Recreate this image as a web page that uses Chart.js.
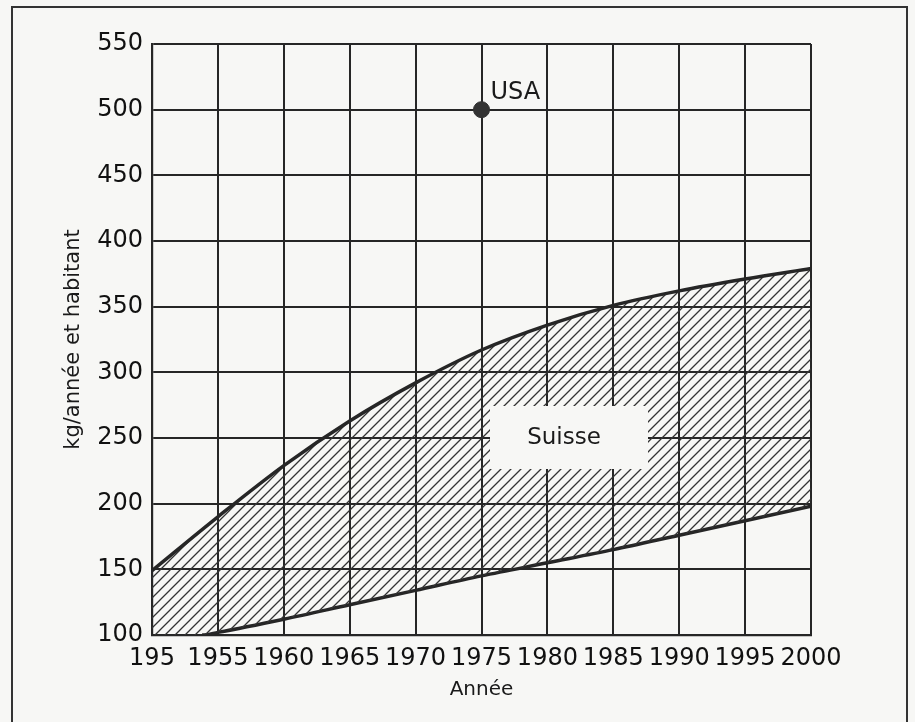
<!DOCTYPE html>
<html>
<head>
<meta charset="utf-8">
<script src="https://cdn.jsdelivr.net/npm/chart.js@4.4.1/dist/chart.umd.min.js"></script>
<style>
  html, body { margin: 0; padding: 0; background: #f7f7f5; }
</style>
</head>
<body>
<canvas id="chart" width="915" height="722"></canvas>
<script>
// valeurs
const years = [1950, 1955, 1960, 1965, 1970, 1975, 1980, 1985, 1990, 1995, 2000];
const xTickLabels = ['195', '1955', '1960', '1965', '1970', '1975', '1980', '1985', '1990', '1995', '2000'];
const yTicks = [100, 150, 200, 250, 300, 350, 400, 450, 500, 550];

// limite haute de la zone Suisse
const suisseHigh = [149, 190, 229, 263, 292, 317, 336, 351, 362, 371, 379];
// limite basse (la courbe commence vers 1953.8 sur l'axe)
const lowYears = [1950, 1953.8, 1955, 1960, 1965, 1970, 1975, 1980, 1985, 1990, 1995, 2000];
const suisseLow = [100, 100, 102, 112, 123, 134, 145, 155, 165, 176, 187, 198];

const usaYear = [1975];
const usaValue = [500];

const suisseLabel = { x: 1980.5, y: 250, text: 'Suisse' };

const ink = '#262626';
const paper = '#f7f7f5';
const fontFamily = '"DejaVu Sans", "Liberation Sans", Arial, sans-serif';

// motif hachuré
function makeHatch() {
  const c = document.createElement('canvas');
  c.width = 10;
  c.height = 10;
  const g = c.getContext('2d');
  g.strokeStyle = '#333';
  g.lineWidth = 1.3;
  g.beginPath();
  g.moveTo(0, 10); g.lineTo(10, 0);
  g.moveTo(-2, 2); g.lineTo(2, -2);
  g.moveTo(8, 12); g.lineTo(12, 8);
  g.stroke();
  return g.createPattern(c, 'repeat');
}

const paperFrame = {
  id: 'paperFrame',
  beforeDraw(chart) {
    const ctx = chart.ctx;
    ctx.save();
    ctx.fillStyle = paper;
    ctx.fillRect(0, 0, chart.width, chart.height);
    ctx.strokeStyle = '#333';
    ctx.lineWidth = 2;
    ctx.strokeRect(12, 7, 895, 730);
    ctx.restore();
  }
};

const textLabels = {
  id: 'textLabels',
  afterDatasetsDraw(chart) {
    const { ctx, scales: { x, y } } = chart;
    ctx.save();
    // boîte Suisse
    const sx = x.getPixelForValue(suisseLabel.x);
    const sy = y.getPixelForValue(suisseLabel.y);
    ctx.fillStyle = paper;
    ctx.fillRect(sx - 64, sy - 32, 158, 63);
    ctx.fillStyle = '#1a1a1a';
    ctx.font = '23px ' + fontFamily;
    ctx.textAlign = 'center';
    ctx.textBaseline = 'middle';
    ctx.fillText(suisseLabel.text, sx + 10, sy);
    // USA
    const ux = x.getPixelForValue(usaYear[0]);
    const uy = y.getPixelForValue(usaValue[0]);
    ctx.font = '24px ' + fontFamily;
    ctx.textAlign = 'left';
    ctx.fillText('USA', ux + 9, uy - 17);
    ctx.restore();
  }
};

const ctx = document.getElementById('chart').getContext('2d');
const hatch = makeHatch();

new Chart(ctx, {
  type: 'line',
  data: {
    datasets: [
      {
        label: 'Suisse haut',
        data: years.map((yr, i) => ({ x: yr, y: suisseHigh[i] })),
        borderColor: ink,
        borderWidth: 3.5,
        pointRadius: 0,
        cubicInterpolationMode: 'monotone',
        backgroundColor: hatch,
        fill: '+1'
      },
      {
        label: 'Suisse bas',
        data: lowYears.map((yr, i) => ({ x: yr, y: suisseLow[i] })),
        borderColor: ink,
        borderWidth: 3.5,
        pointRadius: 0,
        cubicInterpolationMode: 'monotone',
        fill: false,
        segment: {
          borderColor: c => c.p0DataIndex === 0 ? 'rgba(0,0,0,0)' : ink
        }
      },
      {
        label: 'USA',
        data: usaYear.map((yr, i) => ({ x: yr, y: usaValue[i] })),
        showLine: false,
        pointRadius: 8,
        pointBackgroundColor: '#333',
        pointBorderColor: '#333',
        fill: false
      }
    ]
  },
  options: {
    responsive: false,
    animation: false,
    devicePixelRatio: 1,
    layout: { padding: { top: 44, right: 104, bottom: 0, left: 0 } },
    plugins: {
      legend: { display: false },
      tooltip: { enabled: false }
    },
    scales: {
      x: {
        type: 'linear',
        min: 1950,
        max: 2000,
        afterBuildTicks: s => { s.ticks = years.map(v => ({ value: v })); },
        afterFit: s => { s.height = 87; },
        grid: { color: ink, lineWidth: 2, drawTicks: false },
        border: { color: ink, width: 2.2 },
        ticks: {
          autoSkip: false,
          maxRotation: 0,
          padding: 9,
          color: '#111',
          font: { family: fontFamily, size: 24 },
          callback: (v, i) => xTickLabels[i]
        },
        title: {
          display: true,
          text: 'Année',
          color: '#1a1a1a',
          font: { family: fontFamily, size: 20 },
          padding: { bottom: 20 }
        }
      },
      y: {
        min: 100,
        max: 550,
        afterBuildTicks: s => { s.ticks = yTicks.map(v => ({ value: v })); },
        afterFit: s => { s.width = 152; },
        grid: { color: ink, lineWidth: 2, drawTicks: false },
        border: { color: ink, width: 2.2 },
        ticks: {
          padding: 9,
          color: '#111',
          font: { family: fontFamily, size: 24 }
        },
        title: {
          display: true,
          text: 'kg/année et habitant',
          color: '#1a1a1a',
          font: { family: fontFamily, size: 21 },
          padding: { top: 61 }
        }
      }
    }
  },
  plugins: [paperFrame, textLabels]
});
</script>
</body>
</html>
